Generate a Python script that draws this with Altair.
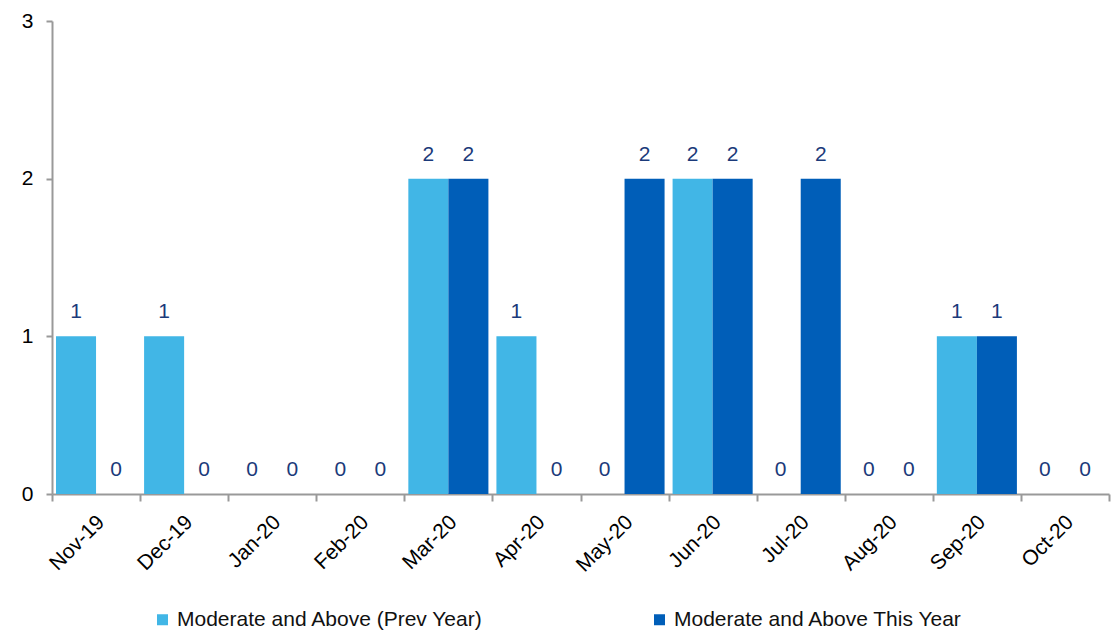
import altair as alt
import pandas as pd

months = ["Nov-19", "Dec-19", "Jan-20", "Feb-20", "Mar-20", "Apr-20",
          "May-20", "Jun-20", "Jul-20", "Aug-20", "Sep-20", "Oct-20"]
prev_year = [1, 1, 0, 0, 2, 1, 0, 2, 0, 0, 1, 0]
this_year = [0, 0, 0, 0, 2, 0, 2, 2, 2, 0, 1, 0]
series = ["Moderate and Above (Prev Year)", "Moderate and Above This Year"]
colors = ["#41B6E6", "#005EB8"]

rows = []
for m, p, t in zip(months, prev_year, this_year):
    rows.append({"month": m, "series": series[0], "value": p})
    rows.append({"month": m, "series": series[1], "value": t})
df = pd.DataFrame(rows)

FONT = "Liberation Sans"

x_enc = alt.X(
    "month:N", sort=months, title=None,
    scale=alt.Scale(paddingInner=0, paddingOuter=0),
    axis=alt.Axis(
        labelAngle=-45, labelAlign="right", labelBaseline="top",
        labelFontSize=21, labelColor="#000000", labelFont=FONT,
        labelPadding=10, labelOffset=-3, tickBand="extent", tickSize=7,
        tickColor="#999999", domainColor="#999999",
        domainWidth=2, tickWidth=2,
    ),
)
xoff = alt.XOffset("series:N", sort=series,
                   scale=alt.Scale(paddingInner=0, paddingOuter=0.1))
y_enc = alt.Y(
    "value:Q", title=None,
    scale=alt.Scale(domain=[0, 3], nice=False),
    axis=alt.Axis(
        values=[0, 1, 2, 3], format="d", grid=False,
        labelFontSize=21, labelColor="#000000", labelFont=FONT,
        labelPadding=13, tickSize=6, tickColor="#999999",
        domainColor="#999999", domainWidth=2, tickWidth=2,
    ),
)

bars = alt.Chart(df).mark_bar().encode(
    x=x_enc, xOffset=xoff, y=y_enc,
    color=alt.Color(
        "series:N", sort=series,
        scale=alt.Scale(domain=series, range=colors),
        legend=alt.Legend(
            title=None, orient="none", direction="horizontal",
            legendX=100, legendY=588, symbolType="square",
            symbolSize=121, symbolStrokeWidth=0, labelFontSize=21,
            labelFont=FONT, labelColor="#111111", columnPadding=165,
            symbolOffset=0, labelOffset=4, labelLimit=400,
        ),
    ),
)

labels = alt.Chart(df).mark_text(
    dy=-24, fontSize=21, font=FONT, color="#1B3A7A"
).encode(
    x=alt.X("month:N", sort=months), xOffset=xoff,
    y="value:Q", text="value:Q",
)

chart = (
    alt.layer(bars, labels)
    .properties(
        width=1057, height=473,
        autosize=alt.AutoSizeParams(type="none"),
        padding={"left": 52, "top": 21, "right": 7, "bottom": 139},
    )
    .configure_view(stroke=None)
)

chart.save("out.html", embed_options={"renderer": "svg", "actions": False})
